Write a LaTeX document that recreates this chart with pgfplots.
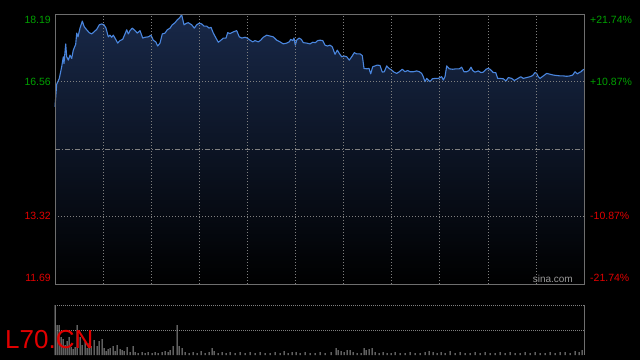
\documentclass[border=0pt]{standalone}
\usepackage{pgfplots}
\pgfplotsset{compat=1.18}
\usepackage{pgfplotstable}
\usepackage{fontspec}
\setmainfont{Liberation Sans}
\definecolor{lineblue}{RGB}{74,134,222}
\definecolor{fillnavy}{RGB}{24,40,72}
\definecolor{gridgray}{RGB}{128,128,128}
\definecolor{framegray}{RGB}{110,110,110}
\definecolor{upgreen}{RGB}{0,160,0}
\definecolor{downred}{RGB}{225,0,0}
\definecolor{volgray}{RGB}{150,150,150}
\pgfplotstableread{
x p
0 15.96
1.7 16.50
4.3 16.64
6.7 16.92
8.3 17.16
9 17.00
10.7 17.47
11.7 17.16
13.3 17.08
15 17.20
16.7 17.12
18.3 17.32
20.7 17.46
21.7 17.73
23 17.64
25 17.85
27.3 18.02
29.3 17.88
31.7 17.81
34.3 17.74
36.7 17.71
39 17.76
41.7 17.82
44.3 17.93
46.7 17.95
49 17.93
51 17.85
53.3 17.64
55 17.68
56.7 17.63
58.3 17.68
60 17.61
62.7 17.49
65 17.55
67.7 17.58
70 17.71
71.7 17.81
73.3 17.71
75 17.79
77.3 17.85
80 17.79
82.3 17.73
85 17.79
87.7 17.61
90 17.63
93.3 17.64
96 17.68
98.3 17.56
100.7 17.52
102.7 17.42
105 17.49
107.3 17.71
110 17.73
112.3 17.81
115 17.85
117.3 17.93
120 17.98
122.3 18.05
124.3 18.09
126.7 18.17
129 17.93
131.7 17.97
133.3 17.98
136.7 17.93
139.3 17.85
141.7 17.93
144.3 17.97
146.7 17.95
149 17.90
151.7 17.90
154 17.85
156 17.87
158.3 17.73
161 17.61
163.3 17.51
166 17.56
168.3 17.61
171 17.61
172.7 17.74
175 17.72
178.3 17.76
181.7 17.79
184.3 17.64
186.7 17.61
190 17.63
192.3 17.61
195 17.56
197.7 17.52
200 17.55
203.3 17.52
205.7 17.56
208.3 17.63
211.7 17.68
215 17.66
218.3 17.64
221.7 17.56
225 17.52
228.3 17.47
231.7 17.49
234.3 17.52
235.7 17.58
237.7 17.55
239 17.61
240.3 17.44
241.7 17.56
244 17.61
246.3 17.58
248.3 17.50
251.7 17.49
255 17.47
257.7 17.51
260.3 17.50
262.7 17.55
265 17.56
267.7 17.55
270 17.44
272.3 17.42
275 17.44
277.3 17.40
280 17.22
282.3 17.32
284.3 17.24
286.7 17.16
289 17.18
291.7 17.16
294.3 17.08
296.7 17.16
299.3 17.26
301.7 17.23
305 17.23
307.3 17.19
309 16.88
311.7 16.87
314 16.88
315.7 16.75
317.7 16.92
320 16.94
322.3 16.96
325 16.95
327.3 16.79
329.3 16.80
331.7 16.94
334 16.88
336.7 16.84
339 16.79
341.7 16.76
344.3 16.80
347.3 16.86
350 16.80
352.7 16.83
355 16.80
358.3 16.80
361.7 16.82
364.3 16.80
366.7 16.76
368.3 16.68
370 16.56
371.7 16.64
373.3 16.60
375 16.56
377.3 16.63
380 16.64
383.3 16.64
386.7 16.68
388.3 16.60
390 16.68
391.7 16.94
394.3 16.87
397.7 16.86
401 16.87
404.3 16.87
406.7 16.91
409 16.80
411.7 16.80
414 16.83
416 16.91
417.7 16.83
420 16.79
423.3 16.82
426 16.78
428.3 16.79
431 16.86
433.3 16.88
435 16.86
436.7 16.82
438.3 16.78
440.7 16.78
442.7 16.64
445 16.64
448.3 16.63
451 16.58
453.3 16.66
456.7 16.64
459.3 16.59
462.3 16.63
465.7 16.68
468.3 16.64
471.7 16.66
475 16.68
477.7 16.71
480 16.78
481.7 16.76
483.3 16.68
485 16.64
488.3 16.70
491.7 16.76
495 16.74
498.3 16.72
501.7 16.71
505 16.70
508.3 16.70
511.7 16.69
515 16.70
517.7 16.72
520 16.80
522.3 16.75
524.3 16.78
526 16.80
527.7 16.84
529 16.86
}\pricetable
\pgfplotstableread{
x v
0 50
2 30
4 30
6 18
8 16
10 10
12 14
14 18
16 8
18 6
20 8
22 30
25 18
27 10
30 13
32 7
34 12
36 9
39 15
42 9
44 14
47 16
49 7
51 4
53 6
55 7
58 9
60 4
62 10
65 6
67 5
69 4
72 8
75 3
78 9
80 3
83 2
87 3
90 2
93 3
97 2
100 3
103 2
107 3
110 4
113 3
115 5
118 9
122 30
124 9
127 7
130 3
134 2
138 3
142 2
146 4
150 2
154 3
157 7
159 4
163 2
167 3
171 2
175 3
180 2
185 3
190 2
195 3
200 2
205 3
210 2
215 2
220 3
225 2
229 4
233 2
237 3
241 3
245 2
250 3
255 2
260 2
265 3
270 2
276 3
281 7
283 5
286 4
289 3
292 5
295 5
298 3
302 2
306 2
309 7
311 5
314 6
317 7
320 3
324 2
328 3
332 2
336 2
340 3
345 2
350 2
355 3
360 2
365 2
370 3
374 4
378 3
382 2
386 3
390 2
395 4
400 2
405 3
410 2
415 2
420 3
425 2
430 3
435 2
440 2
445 3
450 2
455 3
460 2
465 2
470 3
475 2
480 3
485 2
490 2
495 3
500 2
505 3
510 3
515 2
520 4
524 3
527 5
}\voltable
\begin{document}
\begin{tikzpicture}[x=1pt,y=1pt]
\fill[black] (0,0) rectangle (640,360);
\begin{axis}[
  at={(55pt,76pt)}, anchor=south west,
  scale only axis, width=529pt, height=270pt,
  xmin=0, xmax=529, ymin=11.69, ymax=18.19,
  axis on top,
  axis line style={draw=framegray, line width=0.9pt},
  xtick={48.1,96.2,144.3,192.4,240.5,288.6,336.7,384.8,432.9,481},
  ytick={13.32,16.56},
  xticklabels={}, yticklabels={},
  major tick length=0pt,
  xmajorgrids, ymajorgrids,
  grid style={draw=gridgray, line width=0.7pt, dash pattern=on 1pt off 2pt},
  extra y ticks={14.94},
  extra y tick labels={},
  extra y tick style={grid style={draw=gridgray, line width=0.7pt, dash pattern=on 5pt off 2pt on 1pt off 2pt}},
  clip=false,
]
\addplot[draw=none, shade, top color=fillnavy, bottom color=black] table[x=x,y=p] {\pricetable} \closedcycle;
\addplot[lineblue, line width=1.1pt, line join=round] table[x=x,y=p] {\pricetable};
\end{axis}
\begin{axis}[
  at={(55pt,5pt)}, anchor=south west,
  scale only axis, width=529pt, height=50pt,
  xmin=0, xmax=529, ymin=0, ymax=50,
  axis line style={draw=none},
  xtick=\empty, ytick={25,50}, yticklabels={},
  major tick length=0pt,
  ymajorgrids,
  grid style={draw=gridgray, line width=0.8pt, dash pattern=on 1pt off 1pt},
  clip=false,
]
\addplot[ybar, bar width=1pt, fill=volgray, draw=none] table[x=x,y=v] {\voltable};
\draw[framegray, line width=0.9pt] (rel axis cs:0,0) -- (rel axis cs:0,1);
\draw[framegray, line width=0.9pt] (rel axis cs:1,0) -- (rel axis cs:1,1);
\end{axis}
\begin{scope}[font=\fontsize{10.5}{12}\selectfont]
\node[anchor=east, text=upgreen, inner sep=0pt] at (51,340) {18.19};
\node[anchor=east, text=upgreen, inner sep=0pt] at (51,278.3) {16.56};
\node[anchor=east, text=downred, inner sep=0pt] at (51,143.7) {13.32};
\node[anchor=east, text=downred, inner sep=0pt] at (51,81.7) {11.69};
\node[anchor=west, text=upgreen, inner sep=0pt] at (590,340) {+21.74\%};
\node[anchor=west, text=upgreen, inner sep=0pt] at (590,278.3) {+10.87\%};
\node[anchor=west, text=downred, inner sep=0pt] at (590,143.7) {-10.87\%};
\node[anchor=west, text=downred, inner sep=0pt] at (590,81.7) {-21.74\%};
\end{scope}
\node[anchor=base east, text=gray!80!white, inner sep=0pt, font=\fontsize{10}{12}\selectfont] at (573,77.7) {sina.com};
\node[anchor=base west, text=downred, inner sep=0pt, font=\fontsize{26}{30}\selectfont] at (5,11.7) {L70.CN};
\pgfresetboundingbox
\path (0,0) rectangle (640,360);
\end{tikzpicture}
\end{document}
